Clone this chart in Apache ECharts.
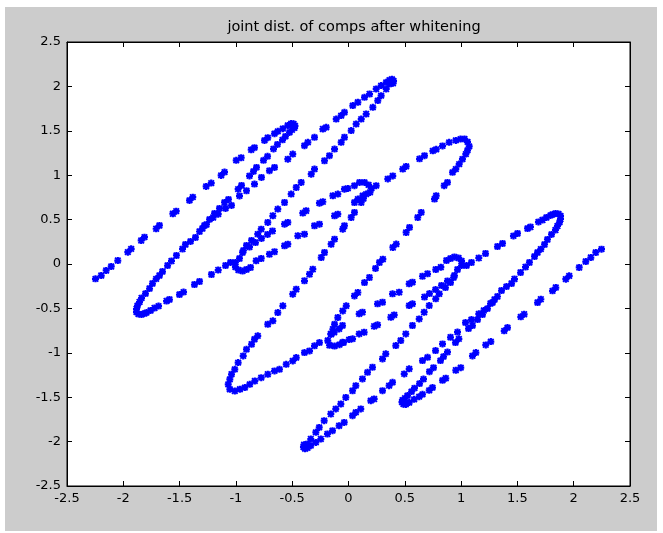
<!DOCTYPE html>
<html>
<head>
<meta charset="utf-8">
<script src="https://cdn.jsdelivr.net/npm/echarts@6/dist/echarts.min.js"></script>
<style>
html,body{margin:0;padding:0;background:#ffffff;}
#frame{position:absolute;left:5px;top:7px;width:652px;height:524px;background:#cccccc;}
#chart{position:absolute;left:0;top:0;width:663px;height:533px;}
</style>
</head>
<body>
<div id="frame"></div>
<div id="chart"></div>
<script>
// ---- chart data ----
const titleText = 'joint dist. of comps after whitening';
const axisMin = -2.5, axisMax = 2.5, axisStep = 0.5;

// upper-left half of the figure
const outerNW = [[-2.247,-0.167],[-2.196,-0.130],[-2.152,-0.073],[-2.107,-0.028],[-2.049,0.039],[-1.960,0.133],[-1.930,0.171],[-1.841,0.265],[-1.812,0.302],[-1.708,0.397],[-1.679,0.434],[-1.560,0.566],[-1.530,0.595],[-1.412,0.716],[-1.383,0.753],[-1.264,0.874],[-1.219,0.911],[-1.131,0.998],[-1.101,1.035],[-0.997,1.167],[-0.953,1.197],[-0.864,1.287],[-0.835,1.310],[-0.746,1.392],[-0.717,1.423],[-0.657,1.468],[-0.628,1.494],[-0.583,1.524],[-0.539,1.561],[-0.509,1.581],[-0.488,1.578],[-0.475,1.556],[-0.480,1.533]];
const innerA = [[-0.502,1.511],[-0.524,1.482],[-0.560,1.437],[-0.586,1.398],[-0.631,1.347],[-0.666,1.296],[-0.719,1.212],[-0.755,1.167],[-0.817,1.088],[-0.844,1.043],[-0.879,0.992],[-0.950,0.885],[-0.980,0.843],[-1.066,0.727],[-1.101,0.693],[-1.146,0.626],[-1.190,0.569],[-1.234,0.502],[-1.279,0.434],[-1.323,0.366]];
const outerT = [[-1.297,0.400],[-1.261,0.445],[-1.202,0.524],[-1.157,0.561],[-1.092,0.626],[-1.039,0.660],[-0.968,0.767],[-0.906,0.825],[-0.835,0.900],[-0.773,0.975],[-0.702,1.051],[-0.657,1.088],[-0.539,1.181],[-0.495,1.238],[-0.391,1.333],[-0.361,1.370],[-0.302,1.426],[-0.228,1.520],[-0.198,1.539],[-0.109,1.632],[-0.065,1.671],[-0.036,1.708],[0.038,1.784],[0.083,1.821],[0.142,1.877],[0.187,1.914],[0.246,1.971],[0.290,2.009],[0.335,2.046],[0.364,2.069],[0.386,2.080],[0.400,2.063],[0.395,2.035]];
const innerT = [[0.364,2.027],[0.335,1.971],[0.290,1.896],[0.260,1.840],[0.216,1.764],[0.157,1.689],[0.113,1.632],[0.068,1.576],[0.024,1.502],[-0.036,1.427],[-0.065,1.370],[-0.124,1.294],[-0.169,1.220],[-0.213,1.163],[-0.302,1.069],[-0.331,1.012],[-0.420,0.919],[-0.464,0.862],[-0.509,0.787],[-0.568,0.693],[-0.628,0.618],[-0.672,0.543],[-0.717,0.468],[-0.775,0.392],[-0.806,0.336],[-0.861,0.265],[-0.906,0.209],[-0.941,0.130],[-0.968,0.062],[-1.004,0.017],[-1.004,-0.034],[-0.977,-0.068],[-0.941,-0.079],[-0.906,-0.062],[-0.870,-0.039]];
const steepB = [[-1.359,0.299],[-1.403,0.254],[-1.448,0.220],[-1.474,0.169],[-1.528,0.096],[-1.572,0.034],[-1.607,-0.017],[-1.652,-0.085],[-1.679,-0.130],[-1.708,-0.167],[-1.741,-0.220],[-1.767,-0.276],[-1.803,-0.333],[-1.838,-0.383],[-1.856,-0.428],[-1.874,-0.468],[-1.883,-0.507],[-1.883,-0.541],[-1.865,-0.564],[-1.838,-0.569],[-1.812,-0.558]];
const flatB = [[-1.794,-0.547],[-1.758,-0.524],[-1.723,-0.496],[-1.687,-0.474],[-1.616,-0.417],[-1.590,-0.400],[-1.501,-0.344],[-1.465,-0.316],[-1.368,-0.231],[-1.323,-0.197],[-1.217,-0.118],[-1.157,-0.068],[-1.092,-0.017],[-1.048,0.017]];
const upperCD = [[-0.933,0.152],[-0.879,0.192],[-0.826,0.242],[-0.773,0.288],[-0.719,0.333],[-0.675,0.372],[-0.568,0.449],[-0.539,0.468],[-0.406,0.573],[-0.376,0.600],[-0.258,0.685],[-0.228,0.701],[-0.139,0.769],[-0.095,0.787],[-0.036,0.843],[-0.006,0.851],[0.053,0.882],[0.098,0.919],[0.142,0.919],[0.178,0.891],[0.204,0.851],[0.191,0.806]];
const lowerCD = [[-0.820,0.036],[-0.775,0.062],[-0.702,0.110],[-0.657,0.138],[-0.568,0.205],[-0.539,0.223],[-0.450,0.318],[-0.391,0.336],[-0.302,0.431],[-0.258,0.449],[-0.124,0.543],[-0.095,0.561],[0.053,0.693],[0.083,0.731],[0.127,0.769],[0.157,0.787]];
const steepDE = [[0.133,0.738],[0.113,0.693],[0.053,0.581],[0.024,0.524],[-0.036,0.431],[-0.051,0.392],[-0.124,0.280],[-0.154,0.223],[-0.213,0.130],[-0.242,0.073],[-0.317,-0.059],[-0.346,-0.115],[-0.391,-0.189],[-0.464,-0.284],[-0.495,-0.340],[-0.583,-0.471],[-0.628,-0.547],[-0.672,-0.640],[-0.717,-0.679],[-0.806,-0.809],[-0.835,-0.848],[-0.861,-0.904],[-0.906,-0.961],[-0.935,-1.035],[-0.980,-1.110],[-1.010,-1.186],[-1.039,-1.242],[-1.054,-1.299],[-1.068,-1.355],[-1.054,-1.411],[-1.010,-1.430],[-0.965,-1.411],[-0.921,-1.392],[-0.877,-1.355],[-0.832,-1.317]];
const flatDF = [[0.246,0.882],[0.349,0.958],[0.393,0.992],[0.482,1.069],[0.512,1.099],[0.631,1.184],[0.675,1.220],[0.749,1.274],[0.779,1.291],[0.835,1.330],[0.894,1.370],[0.953,1.392],[0.995,1.407],[1.030,1.409],[1.057,1.375],[1.072,1.325],[1.057,1.280]];

// lower-right half of the figure
const outerSE = [[2.247,0.167],[2.196,0.130],[2.152,0.073],[2.107,0.028],[2.049,-0.039],[1.960,-0.133],[1.930,-0.171],[1.841,-0.265],[1.812,-0.302],[1.708,-0.397],[1.679,-0.434],[1.560,-0.566],[1.530,-0.595],[1.412,-0.716],[1.383,-0.753],[1.264,-0.874],[1.219,-0.911],[1.131,-0.998],[1.101,-1.035],[0.997,-1.167],[0.953,-1.197],[0.864,-1.287],[0.835,-1.310],[0.746,-1.392],[0.717,-1.423],[0.657,-1.468],[0.628,-1.494],[0.583,-1.524],[0.539,-1.561],[0.509,-1.581],[0.488,-1.578],[0.475,-1.556],[0.480,-1.533]];
const innerK = [[0.502,-1.511],[0.524,-1.482],[0.560,-1.437],[0.586,-1.398],[0.631,-1.347],[0.666,-1.296],[0.719,-1.212],[0.755,-1.167],[0.817,-1.088],[0.844,-1.043],[0.879,-0.992],[0.950,-0.885],[0.980,-0.843],[1.066,-0.727],[1.101,-0.693],[1.146,-0.626],[1.190,-0.569],[1.234,-0.502],[1.279,-0.434],[1.323,-0.366]];
const outerI = [[1.297,-0.400],[1.261,-0.445],[1.202,-0.524],[1.157,-0.561],[1.092,-0.626],[1.039,-0.660],[0.968,-0.767],[0.906,-0.825],[0.835,-0.900],[0.773,-0.975],[0.702,-1.051],[0.657,-1.088],[0.539,-1.181],[0.495,-1.238],[0.391,-1.333],[0.361,-1.370],[0.302,-1.426],[0.228,-1.520],[0.198,-1.539],[0.109,-1.632],[0.065,-1.671],[0.036,-1.708],[-0.038,-1.784],[-0.083,-1.821],[-0.142,-1.877],[-0.187,-1.914],[-0.246,-1.971],[-0.290,-2.009],[-0.335,-2.046],[-0.364,-2.069],[-0.386,-2.080],[-0.400,-2.063],[-0.395,-2.035]];
const innerI = [[-0.364,-2.027],[-0.335,-1.971],[-0.290,-1.896],[-0.260,-1.840],[-0.216,-1.764],[-0.157,-1.689],[-0.113,-1.632],[-0.068,-1.576],[-0.024,-1.502],[0.036,-1.427],[0.065,-1.370],[0.124,-1.294],[0.169,-1.220],[0.213,-1.163],[0.302,-1.069],[0.331,-1.012],[0.420,-0.919],[0.464,-0.862],[0.509,-0.787],[0.568,-0.693],[0.628,-0.618],[0.672,-0.543],[0.717,-0.468],[0.775,-0.392],[0.806,-0.336],[0.861,-0.265],[0.906,-0.209],[0.941,-0.130],[0.968,-0.062],[1.004,-0.017],[1.004,0.034],[0.977,0.068],[0.941,0.079],[0.906,0.062],[0.870,0.039]];
const steepJ = [[1.359,-0.299],[1.403,-0.254],[1.448,-0.220],[1.474,-0.169],[1.528,-0.096],[1.572,-0.034],[1.607,0.017],[1.652,0.085],[1.679,0.130],[1.708,0.167],[1.741,0.220],[1.767,0.276],[1.803,0.333],[1.838,0.383],[1.856,0.428],[1.874,0.468],[1.883,0.507],[1.883,0.541],[1.865,0.564],[1.838,0.569],[1.812,0.558]];
const flatJ = [[1.794,0.547],[1.758,0.524],[1.723,0.496],[1.687,0.474],[1.616,0.417],[1.590,0.400],[1.501,0.344],[1.465,0.316],[1.368,0.231],[1.323,0.197],[1.217,0.118],[1.157,0.068],[1.092,0.017],[1.048,-0.017]];
const lowerGH = [[0.933,-0.152],[0.879,-0.192],[0.826,-0.242],[0.773,-0.288],[0.719,-0.333],[0.675,-0.372],[0.568,-0.449],[0.539,-0.468],[0.406,-0.573],[0.376,-0.600],[0.258,-0.685],[0.228,-0.701],[0.139,-0.769],[0.095,-0.787],[0.036,-0.843],[0.006,-0.851],[-0.053,-0.882]];
const upperGH = [[0.820,-0.036],[0.775,-0.062],[0.702,-0.110],[0.657,-0.138],[0.568,-0.205],[0.539,-0.223],[0.450,-0.318],[0.391,-0.336],[0.302,-0.431],[0.258,-0.449],[0.124,-0.543],[0.095,-0.561],[-0.053,-0.693],[-0.083,-0.731],[-0.127,-0.769],[-0.157,-0.787]];
const steepFG = [[1.042,1.238],[1.012,1.181],[0.983,1.125],[0.953,1.069],[0.924,1.032],[0.879,0.919],[0.850,0.882],[0.779,0.769],[0.764,0.731],[0.646,0.581],[0.615,0.524],[0.542,0.412],[0.512,0.355],[0.424,0.224],[0.394,0.186],[0.305,0.054],[0.275,0.017],[0.240,-0.050],[0.186,-0.152],[0.142,-0.209],[0.083,-0.321],[0.053,-0.359],[-0.020,-0.471],[-0.051,-0.528],[-0.095,-0.603],[-0.124,-0.679],[-0.139,-0.735],[-0.154,-0.791],[-0.184,-0.862],[-0.169,-0.915],[-0.124,-0.924],[-0.080,-0.908],[-0.044,-0.885]];
const flatEG = [[-0.775,-1.280],[-0.717,-1.242],[-0.657,-1.204],[-0.613,-1.186],[-0.553,-1.130],[-0.495,-1.091],[-0.464,-1.054],[-0.391,-0.998],[-0.346,-0.979],[-0.302,-0.922],[-0.258,-0.885]];

const strands = [outerNW, innerA, outerT, innerT, steepB, flatB, upperCD, lowerCD, steepDE, flatDF,
                 outerSE, innerK, outerI, innerI, steepJ, flatJ, lowerGH, upperGH, steepFG, flatEG];

// ---- chart ----
const asterisk = 'path://M3.4 0L6.6 0L6.6 10L3.4 10Z M0 3.4L10 3.4L10 6.6L0 6.6Z M1.9 0.1L9.9 8.1L8.1 9.9L0.1 1.9Z M8.1 0.1L9.9 1.9L1.9 9.9L0.1 8.1Z';
const font = 'DejaVu Sans';
const lineStyle = {color:'#000000', width:1};

function valueAxis(pos, showLabel) {
  return {
    type:'value', position:pos, min:axisMin, max:axisMax, interval:axisStep,
    axisLine:{show:true, onZero:false, lineStyle:lineStyle},
    axisTick:{show:true, inside:true, length:5, lineStyle:lineStyle},
    axisLabel:{show:showLabel, color:'#000000', fontFamily:font, fontSize:13, margin:6},
    splitLine:{show:false}
  };
}

const chart = echarts.init(document.getElementById('chart'), null, {renderer:'canvas'});
chart.setOption({
  animation:false,
  backgroundColor:'transparent',
  title:{
    text:titleText, left:349, top:15, textAlign:'center',
    textStyle:{color:'#000000', fontFamily:font, fontSize:14.5, fontWeight:'normal'}
  },
  grid:{left:67, right:33, top:42, bottom:47, show:true, backgroundColor:'#ffffff', borderColor:'#000000', borderWidth:1},
  xAxis:[valueAxis('bottom', true), valueAxis('top', false)],
  yAxis:[valueAxis('left', true), valueAxis('right', false)],
  series: strands.map(function (s) {
    return {
      type:'scatter', xAxisIndex:0, yAxisIndex:0, data:s,
      symbol:asterisk, symbolSize:7,
      itemStyle:{color:'#0000ff', opacity:1},
      emphasis:{disabled:true}
    };
  })
});
</script>
</body>
</html>
